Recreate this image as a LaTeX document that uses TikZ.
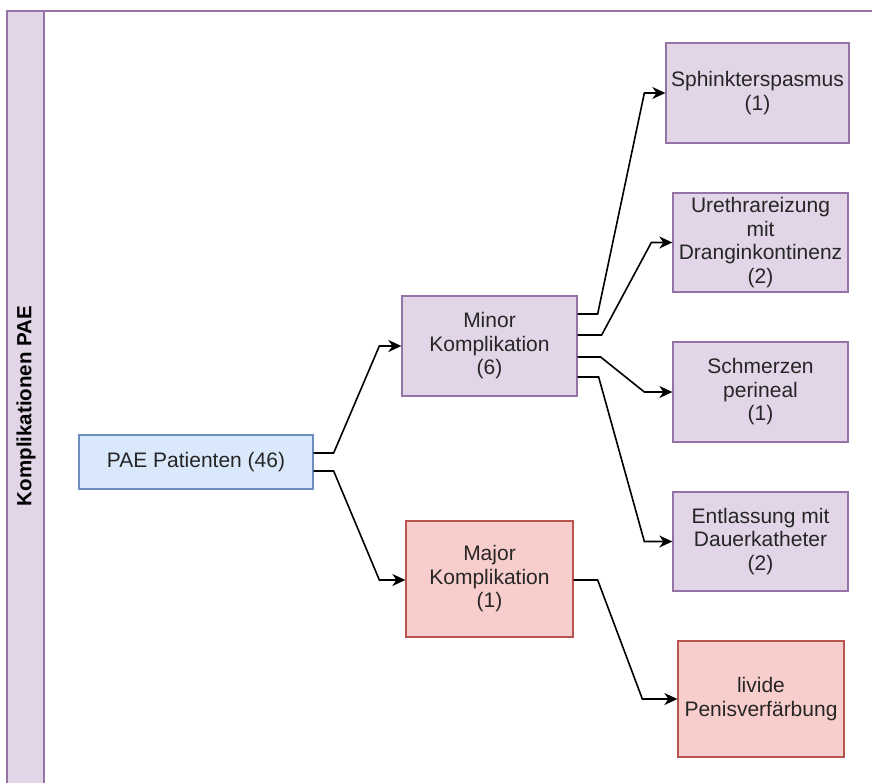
\documentclass[tikz,border=0pt]{standalone}
\usepackage{fontspec}
\setmainfont{Liberation Sans}
\usetikzlibrary{arrows.meta}
\definecolor{pfill}{HTML}{E1D5E7}
\definecolor{pdraw}{HTML}{9673A6}
\definecolor{bfill}{HTML}{DAE8FC}
\definecolor{bdraw}{HTML}{6C8EBF}
\definecolor{rfill}{HTML}{F8CECC}
\definecolor{rdraw}{HTML}{B85450}
\tikzset{
  box/.style={rectangle, draw, line width=1.3pt, align=center, inner sep=2pt,
    font=\fontsize{21}{23.5}\selectfont, text=black!85},
  pbox/.style={box, fill=pfill, draw=pdraw},
  bbox/.style={box, fill=bfill, draw=bdraw},
  rbox/.style={box, fill=rfill, draw=rdraw},
  conn/.style={draw=black, line width=1.6pt, -{Stealth[length=13pt,width=12pt,inset=4pt]}}
}
\begin{document}
\begin{tikzpicture}[x=1pt,y=-1pt]
\useasboundingbox (0,0) rectangle (872,782);
\clip (0,0) rectangle (872,782);
% frame
\draw[pdraw, line width=1.5pt, fill=white] (7,11) rectangle (900,810);
\draw[pdraw, line width=1.5pt, fill=pfill] (7,11) rectangle (44,810);
\node[rotate=90, font=\bfseries\fontsize{20.5}{23.5}\selectfont] (title) at (26,406) {Komplikationen PAE};
% nodes
\node[bbox, minimum width=234pt, minimum height=54pt] (pae) at (196,462) {PAE Patienten (46)};
\node[pbox, minimum width=175pt, minimum height=100pt] (minor) at (489.5,346) {Minor\\Komplikation\\(6)};
\node[rbox, minimum width=167pt, minimum height=116pt] (major) at (489.5,579) {Major\\Komplikation\\(1)};
\node[pbox, minimum width=183pt, minimum height=100pt] (sph) at (757.5,93) {Sphinkterspasmus\\(1)};
\node[pbox, minimum width=175pt, minimum height=99pt] (ure) at (760.5,242.5) {Urethrareizung\\mit\\Dranginkontinenz\\(2)};
\node[pbox, minimum width=175pt, minimum height=100pt] (sch) at (760.5,392) {Schmerzen\\perineal\\(1)};
\node[pbox, minimum width=175pt, minimum height=99pt] (ent) at (760.5,541.5) {Entlassung mit\\Dauerkatheter\\(2)};
\node[rbox, minimum width=166pt, minimum height=116pt] (liv) at (761,699) {livide\\Penisverfärbung};
% connectors
\draw[conn] ([yshift=9pt]pae.east) -- ++(20pt,0) -- ([xshift=-22pt]minor.west) -- (minor.west);
\draw[conn] ([yshift=-9pt]pae.east) -- ++(20pt,0) -- ([xshift=-26pt,yshift=-1pt]major.west) -- ([yshift=-1pt]major.west);
\draw[conn] ([yshift=32pt]minor.east) -- ++(20pt,0) -- ([xshift=-21pt]sph.west) -- (sph.west);
\draw[conn] ([yshift=11pt]minor.east) -- ++(24pt,0) -- ([xshift=-21pt]ure.west) -- (ure.west);
\draw[conn] ([yshift=-11pt]minor.east) -- ++(23pt,0) -- ([xshift=-28pt]sch.west) -- (sch.west);
\draw[conn] ([yshift=-31pt]minor.east) -- ++(21pt,0) -- ([xshift=-28pt]ent.west) -- (ent.west);
\draw[conn] ([yshift=-1pt]major.east) -- ++(24pt,0) -- ([xshift=-35pt]liv.west) -- (liv.west);
\end{tikzpicture}
\end{document}
